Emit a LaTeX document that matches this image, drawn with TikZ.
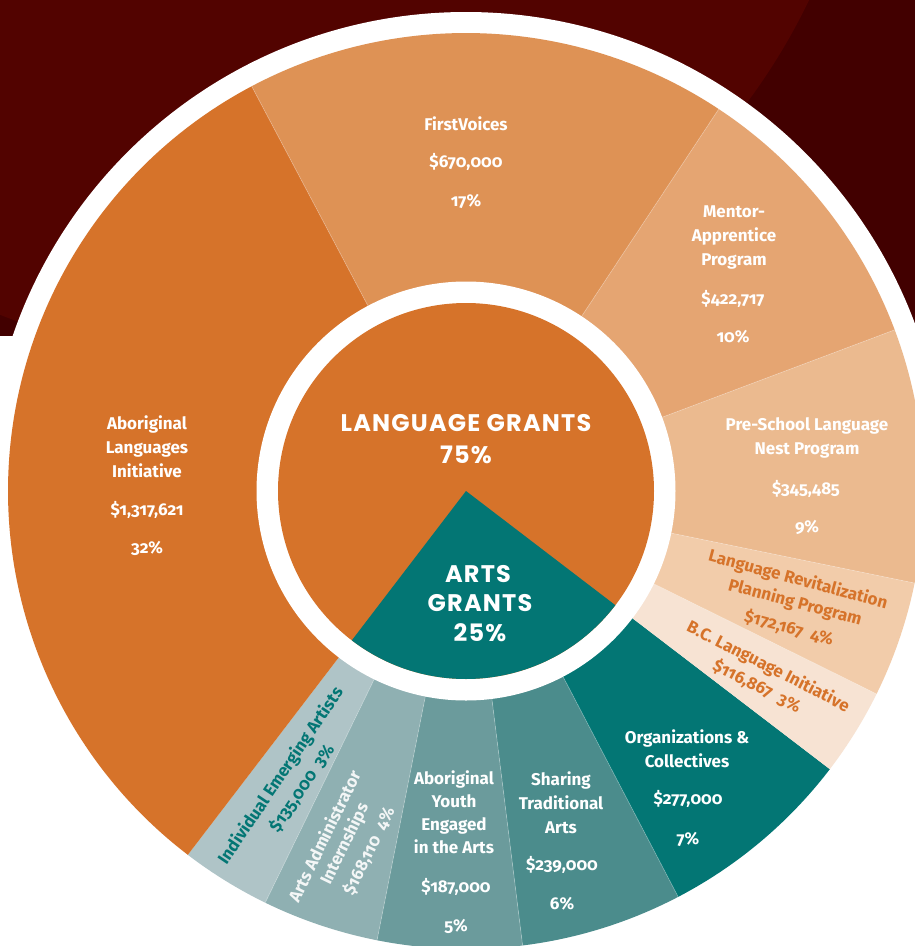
\documentclass[tikz,border=0pt]{standalone}
\usepackage{fontspec}
\setmainfont{Fira Sans}[Numbers=OldStyle]
\newfontfamily\titlefont{Poppins}[LetterSpace=5]
\definecolor{bgdark}{HTML}{420000}
\definecolor{bgmaroon}{HTML}{520300}
\definecolor{cAbo}{HTML}{D6732A}
\definecolor{cFirst}{HTML}{DE9255}
\definecolor{cMentor}{HTML}{E5A572}
\definecolor{cPre}{HTML}{EBBA8F}
\definecolor{cRevit}{HTML}{F2CCAA}
\definecolor{cBC}{HTML}{F7E3D3}
\definecolor{cOrg}{HTML}{037674}
\definecolor{cShare}{HTML}{4B8C8C}
\definecolor{cYouth}{HTML}{6B9B9C}
\definecolor{cAdmin}{HTML}{8FB0B2}
\definecolor{cIndiv}{HTML}{AFC4C7}
\definecolor{offwhite}{HTML}{F3F6F6}
\newcommand\pieseg[3]{\fill[#3] (C) -- ++(#1:458) arc[start angle=#1, end angle=#2, radius=458] -- cycle;}
\newcommand\segline[1]{\draw[white, opacity=.3, line width=.7pt] (C) -- ++(#1:458);}
\tikzset{
  lab/.style={text=white, font=\fontsize{17}{24}\selectfont\bfseries, align=center, inner sep=0pt},
  rlab/.style={lab, text=cAbo},
  tlab/.style={lab, text=cOrg},
  wlab/.style={lab, text=offwhite},
  ttl/.style={text=white, font=\titlefont\bfseries\fontsize{24}{27}\selectfont, inner sep=0pt}
}
\begin{document}
\begin{tikzpicture}[x=1pt,y=1pt]
\useasboundingbox (0,0) rectangle (915,-946);
\fill[white] (0,0) rectangle (915,-946);
% background
\fill[bgdark] (0,0) rectangle (915,-336);
\begin{scope}
  \clip (0,0) rectangle (915,-336);
  \fill[bgmaroon] (236,276) circle (636);
\end{scope}
\coordinate (C) at (466,-491);
\fill[white] (C) circle (479);
% outer ring segments
\pieseg{-127.4}{-116}{cIndiv}
\pieseg{-116}{-101.2}{cAdmin}
\pieseg{-101.2}{-82.9}{cYouth}
\pieseg{-82.9}{-62.4}{cShare}
\pieseg{-62.4}{-37.4}{cOrg}
\pieseg{-37.4}{-26.3}{cBC}
\pieseg{-26.3}{-11.6}{cRevit}
\pieseg{-11.6}{20.6}{cPre}
\pieseg{20.6}{56.5}{cMentor}
\pieseg{56.5}{117.9}{cFirst}
\pieseg{117.9}{232.6}{cAbo}
\foreach \a in {-116,-101.2,-82.9,-62.4,-26.3,-11.6,20.6,56.5,117.9} {\segline{\a}}
% inner circle
\fill[white] (C) circle (209.5);
\fill[cAbo] (C) circle (188);
\fill[cOrg] (C) -- ++(-127.4:188) arc[start angle=-127.4, end angle=-37.4, radius=188] -- cycle;
% centre titles
\node[ttl] (lang) at (466,-423) {LANGUAGE GRANTS};
\node[ttl] (langPct) at (466,-455) {75\%};
\node[ttl] (arts) at (478,-574) {ARTS};
\node[ttl] (artsG) at (480,-603) {GRANTS};
\node[ttl] (artsPct) at (480,-633) {25\%};
% language labels
\node[lab] (aliName) at (147,-447) {Aboriginal\\Languages\\Initiative};
\node[lab] (aliAmt) at (147,-510) {\$1,317,621};
\node[lab] (aliPct) at (147,-548) {32\%};
\node[lab] (fvName) at (466,-124) {FirstVoices};
\node[lab] (fvAmt) at (466,-162) {\$670,000};
\node[lab] (fvPct) at (466,-201) {17\%};
\node[lab] (mapName) at (734,-237) {Mentor-\\Apprentice\\Program};
\node[lab] (mapAmt) at (733,-299) {\$422,717};
\node[lab] (mapPct) at (733,-337) {10\%};
\node[lab] (preName) at (807,-438) {Pre-School Language\\Nest Program};
\node[lab] (preAmt) at (806,-489) {\$345,485};
\node[lab] (prePct) at (807,-527) {9\%};
\node[rlab, rotate=-15] (revA) at (798,-580) {Language Revitalization};
\node[rlab, rotate=-15] (revB) at (795,-603) {Planning Program};
\node[rlab, rotate=-15] (revC) at (789,-628) {\$172,167\ \ 4\%};
\node[rlab, rotate=-27] (bcA) at (768,-667) {B.C. Language Initiative};
\node[rlab, rotate=-27] (bcB) at (757,-686) {\$116,867\ \ 3\%};
% arts labels
\node[lab] (orgName) at (687,-749) {Organizations \&\\Collectives};
\node[lab] (orgAmt) at (688,-799) {\$277,000};
\node[lab] (orgPct) at (688,-839) {7\%};
\node[lab] (shaName) at (561,-803) {Sharing\\Traditional\\Arts};
\node[lab] (shaAmt) at (562,-865) {\$239,000};
\node[lab] (shaPct) at (562,-904) {6\%};
\node[lab, font=\fontsize{17}{23}\selectfont\bfseries] (youName) at (454,-812) {Aboriginal\\Youth\\Engaged\\in the Arts};
\node[lab] (youAmt) at (456,-887) {\$187,000};
\node[lab] (youPct) at (456,-926) {5\%};
\node[wlab, rotate=64] (admA) at (324,-836) {Arts Administrator};
\node[wlab, rotate=64] (admB) at (345,-844) {Internships};
\node[wlab, rotate=64] (admC) at (369,-851) {\$168,110\ \ 4\%};
\node[tlab, rotate=56] (indA) at (281,-776) {Individual Emerging Artists};
\node[tlab, rotate=56] (indB) at (302,-788) {\$135,000\ \ 3\%};
\end{tikzpicture}
\end{document}
